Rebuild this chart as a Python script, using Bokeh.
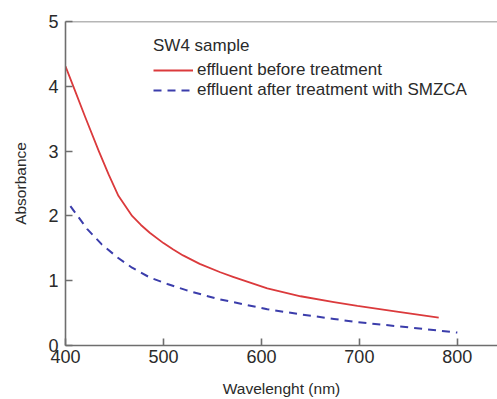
from bokeh.plotting import figure
from bokeh.models import Legend, LegendItem, Span, Range1d, FixedTicker
from bokeh.embed import file_html
from bokeh.resources import INLINE

# Data
wl_before = [400, 408, 420, 434, 444, 454, 468, 477, 486, 500, 510, 520, 537, 558, 571, 606, 640, 674, 698, 740, 781]
abs_before = [4.31, 4.00, 3.53, 3.00, 2.64, 2.31, 2.00, 1.86, 1.74, 1.58, 1.48, 1.39, 1.26, 1.13, 1.06, 0.88, 0.76, 0.67, 0.61, 0.52, 0.43]

wl_after = [405, 422, 437, 453, 468, 486, 504, 524, 555, 571, 606, 640, 674, 698, 750, 800]
abs_after = [2.15, 1.80, 1.56, 1.36, 1.20, 1.05, 0.95, 0.85, 0.72, 0.67, 0.56, 0.48, 0.41, 0.36, 0.28, 0.20]

x_ticks = [400, 500, 600, 700, 800]
y_ticks = [0, 1, 2, 3, 4, 5]

legend_title = "SW4 sample"
label_before = "effluent before treatment"
label_after = "effluent after treatment with SMZCA"

FONT = "Liberation Sans"
AXIS_COLOR = "#6e6e6e"
TEXT_COLOR = "#2a2a2a"

p = figure(width=497, height=399, output_backend="svg", toolbar_location=None,
           x_range=Range1d(400, 841), y_range=Range1d(0, 5),
           min_border_left=65, min_border_right=0, min_border_top=21, min_border_bottom=54,
           x_axis_label="Wavelenght (nm)", y_axis_label="Absorbance")

p.background_fill_color = "white"
p.border_fill_color = "white"
p.outline_line_color = None
p.grid.visible = False

for ax in (p.xaxis[0], p.yaxis[0]):
    ax.axis_line_color = AXIS_COLOR
    ax.axis_line_width = 1.6
    ax.major_tick_line_color = AXIS_COLOR
    ax.major_tick_line_width = 1.6
    ax.major_tick_in = 7
    ax.major_tick_out = 0
    ax.minor_tick_line_color = None
    ax.major_label_text_font = FONT
    ax.major_label_text_font_size = "18px"
    ax.major_label_text_color = TEXT_COLOR
    ax.axis_label_text_font = FONT
    ax.axis_label_text_font_size = "15.5px"
    ax.axis_label_text_font_style = "normal"
    ax.axis_label_text_color = TEXT_COLOR

p.xaxis[0].ticker = FixedTicker(ticks=x_ticks)
p.yaxis[0].ticker = FixedTicker(ticks=y_ticks)
p.xaxis[0].major_label_standoff = 4
p.yaxis[0].major_label_standoff = 7
p.xaxis[0].axis_label_standoff = 14
p.yaxis[0].axis_label_standoff = 16

top_line = Span(location=5, dimension="width", line_color=AXIS_COLOR, line_width=1.6)
p.add_layout(top_line)

r1 = p.line(wl_before, abs_before, line_color="#db3a3c", line_width=1.8, line_join="round")
r2 = p.line(wl_after, abs_after, line_color="#3b3dab", line_width=2.0, line_dash="8 6")

legend = Legend(items=[LegendItem(label=label_before, renderers=[r1]),
                       LegendItem(label=label_after, renderers=[r2])],
                location=(88, 245), title=legend_title,
                title_text_font=FONT, title_text_font_size="17px", title_text_font_style="normal",
                title_text_color=TEXT_COLOR, title_standoff=4,
                label_text_font=FONT, label_text_font_size="17px", label_text_color=TEXT_COLOR,
                glyph_width=40, glyph_height=20, label_standoff=4, label_height=20,
                spacing=0, padding=0, margin=0,
                border_line_color=None, background_fill_alpha=0)
p.add_layout(legend)

open("out.html", "w").write(file_html(p, INLINE))
